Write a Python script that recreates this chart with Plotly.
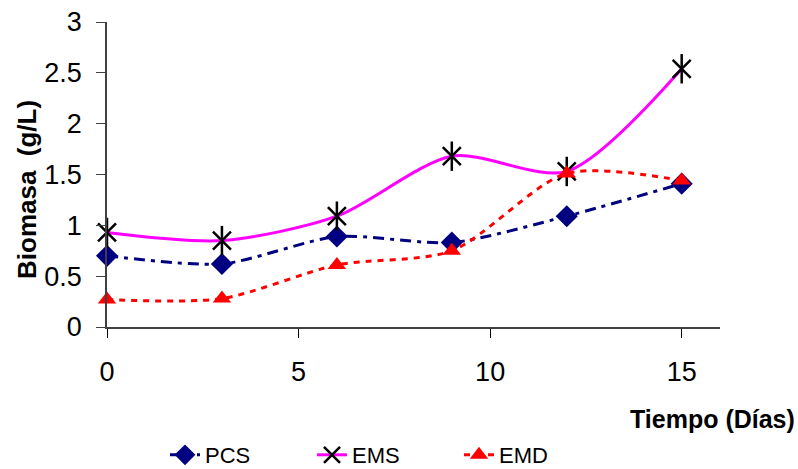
import plotly.graph_objects as go

dias = [0, 3, 6, 9, 12, 15]
pcs = [0.70, 0.62, 0.89, 0.83, 1.09, 1.41]
ems = [0.93, 0.85, 1.09, 1.68, 1.53, 2.54]
emd = [0.27, 0.28, 0.61, 0.75, 1.51, 1.44]
x_ticks = [0, 5, 10, 15]
y_ticks = [0, 0.5, 1, 1.5, 2, 2.5, 3]
y_tick_text = ["0", "0.5", "1", "1.5", "2", "2.5", "3"]

font = "Liberation Sans, Arial, sans-serif"

fig = go.Figure()
fig.add_trace(go.Scatter(
    x=dias, y=pcs, name="PCS", mode="lines+markers", cliponaxis=False,
    line=dict(color="#000080", width=3, dash="11px,6px,4px,6px", shape="spline", smoothing=0.7),
    marker=dict(symbol="diamond", size=17, color="#000080"),
))
fig.add_trace(go.Scatter(
    x=dias, y=ems, name="EMS", mode="lines+markers", cliponaxis=False,
    line=dict(color="#FF00FF", width=3, shape="spline", smoothing=0.8),
    marker=dict(symbol="x-thin-open", size=18, color="black", line=dict(color="black", width=2.5)),
))
fig.add_trace(go.Scatter(
    x=dias, y=ems, name="EMS", mode="markers", showlegend=False, hoverinfo="skip", cliponaxis=False,
    marker=dict(symbol="line-ns-open", size=21, color="black", line=dict(color="black", width=2.5)),
))
fig.add_trace(go.Scatter(
    x=dias, y=emd, name="EMD", mode="lines+markers", cliponaxis=False,
    line=dict(color="#FF0000", width=3, dash="6px,6px", shape="spline", smoothing=0.8),
    marker=dict(symbol="triangle-up", size=16, color="#FF0000"),
))

fig.update_layout(
    width=798, height=469,
    margin=dict(l=107, r=78, t=22, b=142, autoexpand=False),
    paper_bgcolor="white", plot_bgcolor="white",
    font=dict(family=font, color="black"),
    showlegend=True,
    legend=dict(orientation="h", x=(165 - 107) / 613, xanchor="left", y=(327 - 455) / 305, yanchor="middle",
                font=dict(size=22, family=font), entrywidth=102, tracegroupgap=0,
                bgcolor="rgba(0,0,0,0)"),
    xaxis=dict(range=[0, 16], tickvals=x_ticks, showline=True, linecolor="#404040", linewidth=1.5,
               ticks="outside", ticklen=9, tickcolor="black", tickfont=dict(size=27, family=font),
               showgrid=False, zeroline=False, ticklabelstandoff=11),
    yaxis=dict(range=[0, 3], tickvals=y_ticks, ticktext=y_tick_text,
               showline=True, linecolor="#404040", linewidth=1.5,
               ticks="outside", ticklen=9, tickcolor="#404040", tickfont=dict(size=27, family=font),
               showgrid=False, zeroline=False, ticklabelstandoff=9),
    annotations=[
        dict(text="<b>Tiempo (Días)</b>", x=(797 - 107) / 613, xref="paper", xanchor="right",
             y=(327 - 419) / 305, yref="paper", yanchor="middle", showarrow=False,
             font=dict(size=25, family=font)),
        dict(text="<b>Biomasa  (g/L)</b>", x=(27 - 107) / 613, xref="paper", xanchor="center",
             y=(327 - 190) / 305, yref="paper", yanchor="middle", showarrow=False, textangle=-90,
             font=dict(size=26, family=font)),
    ],
)
fig.write_html("out.html")
